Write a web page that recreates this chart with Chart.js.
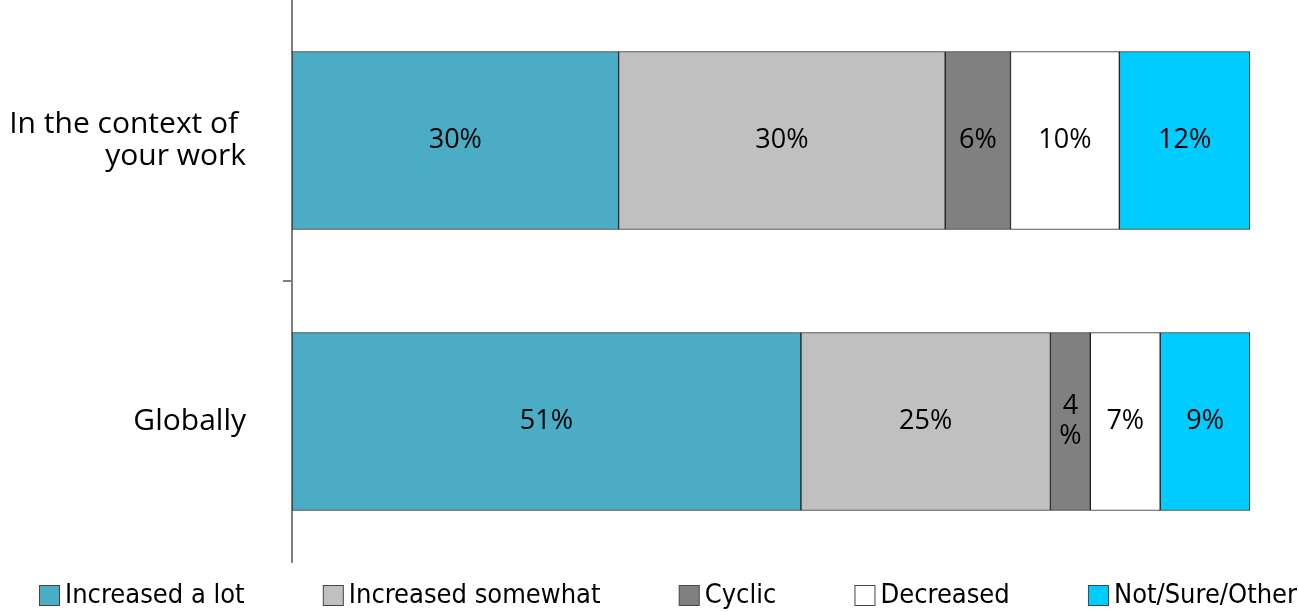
<!DOCTYPE html>
<html>
<head>
<meta charset="utf-8">
<style>
  html, body { margin: 0; padding: 0; background: #ffffff; }
  #wrap { width: 1299px; height: 612px; }
</style>
<script src="https://cdn.jsdelivr.net/npm/chart.js@4/dist/chart.umd.min.js"></script>
</head>
<body>
<div id="wrap"><canvas id="chart" width="1299" height="612"></canvas></div>
<script>
// Response shares (percent) per question
const categories = [['In the context of ', 'your work'], 'Globally'];
const seriesNames = ['Increased a lot', 'Increased somewhat', 'Cyclic', 'Decreased', 'Not/Sure/Other'];
const increasedALot = [30, 51];
const increasedSomewhat = [30, 25];
const cyclic = [6, 4];
const decreased = [10, 7];
const notSureOther = [12, 9];
const seriesColors = ['#4BACC6', '#C0C0C0', '#808080', '#FFFFFF', '#00CCFF'];

const seriesValues = [increasedALot, increasedSomewhat, cyclic, decreased, notSureOther];

// Each bar is stacked to 100% of its category total
const totals = categories.map((_, i) => seriesValues.reduce((s, arr) => s + arr[i], 0));

const datasets = seriesValues.map((arr, k) => ({
  label: seriesNames[k],
  rawValues: arr,
  data: arr.map((v, i) => v / totals[i] * 100),
  backgroundColor: seriesColors[k],
  borderColor: '#222222',
  borderWidth: 1,
  borderSkipped: false,
  barThickness: 178
}));

// Value labels centred in each segment; wraps onto two lines if the segment is too narrow
const segmentLabels = {
  id: 'segmentLabels',
  afterDatasetsDraw(chart) {
    const ctx = chart.ctx;
    ctx.save();
    ctx.font = '27px "Open Sans", "Noto Sans", sans-serif';
    ctx.fillStyle = '#000000';
    ctx.textAlign = 'center';
    ctx.textBaseline = 'middle';
    chart.data.datasets.forEach((ds, di) => {
      const meta = chart.getDatasetMeta(di);
      meta.data.forEach((bar, i) => {
        const raw = ds.rawValues[i];
        const text = raw + '%';
        const left = Math.min(bar.x, bar.base);
        const w = Math.abs(bar.x - bar.base);
        const cx = left + w / 2;
        if (ctx.measureText(text).width > w - 8) {
          const lh = 30;
          ctx.fillText(String(raw), cx, bar.y - lh / 2);
          ctx.fillText('%', cx, bar.y + lh / 2);
        } else {
          ctx.fillText(text, cx, bar.y);
        }
      });
    });
    ctx.restore();
  }
};

// Legend row along the bottom, spread across the canvas
const bottomLegend = {
  id: 'bottomLegend',
  afterDraw(chart, args, opts) {
    const ctx = chart.ctx;
    ctx.save();
    ctx.font = opts.font;
    ctx.textBaseline = 'middle';
    ctx.textAlign = 'left';
    const box = opts.boxSize;
    const gap = opts.textGap;
    const items = chart.data.datasets.map(ds => ({
      label: ds.label,
      color: ds.backgroundColor,
      w: box + gap + ctx.measureText(ds.label).width
    }));
    const used = items.reduce((s, it) => s + it.w, 0);
    const span = chart.width - opts.marginLeft - opts.marginRight;
    const spacing = (span - used) / (items.length - 1);
    const y = chart.height - opts.offsetBottom;
    let x = opts.marginLeft;
    items.forEach(it => {
      ctx.fillStyle = it.color;
      ctx.fillRect(x + 0.5, y - box / 2 + 0.5, box, box);
      ctx.strokeStyle = '#444444';
      ctx.lineWidth = 1;
      ctx.strokeRect(x + 0.5, y - box / 2 + 0.5, box, box);
      ctx.fillStyle = '#000000';
      ctx.fillText(it.label, x + box + gap, y + 1);
      x += it.w + spacing;
    });
    ctx.restore();
  }
};

new Chart(document.getElementById('chart'), {
  type: 'bar',
  data: { labels: categories, datasets },
  plugins: [segmentLabels, bottomLegend],
  options: {
    indexAxis: 'y',
    responsive: false,
    animation: false,
    layout: { padding: { top: 0, right: 49, bottom: 50, left: 0 } },
    scales: {
      x: {
        stacked: true,
        min: 0,
        max: 100,
        display: false
      },
      y: {
        stacked: true,
        afterFit(scale) {
          scale.width = 292;
          scale.paddingTop = 0;
          scale.paddingBottom = 0;
        },
        border: { display: true, color: '#7F7F7F', width: 2 },
        grid: {
          drawOnChartArea: false,
          drawTicks: true,
          tickLength: 9,
          lineWidth: 2,
          color: c => (c.index === 1 ? '#7F7F7F' : 'rgba(0,0,0,0)')
        },
        ticks: {
          color: '#000000',
          padding: 37,
          font: { family: '"Open Sans", "Noto Sans", sans-serif', size: 30, lineHeight: 1.07 }
        }
      }
    },
    plugins: {
      legend: { display: false },
      tooltip: { enabled: false },
      bottomLegend: {
        font: '27px "Liberation Sans Narrow", "DejaVu Sans Condensed", sans-serif',
        boxSize: 20,
        textGap: 6,
        marginLeft: 39,
        marginRight: 2,
        offsetBottom: 17
      }
    }
  }
});
</script>
</body>
</html>
